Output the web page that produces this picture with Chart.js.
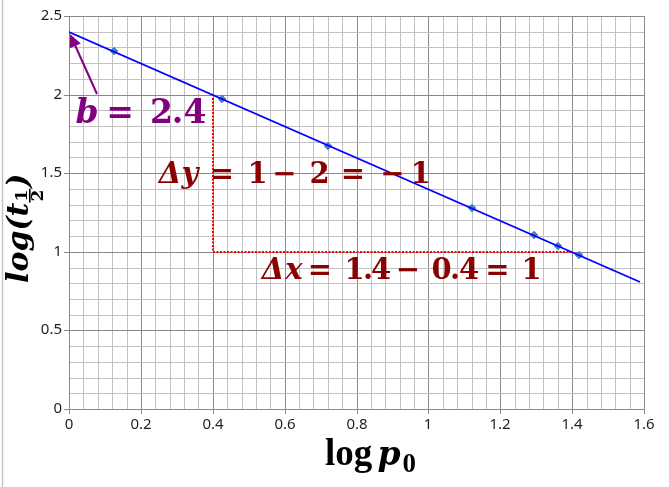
<!DOCTYPE html>
<html>
<head>
<meta charset="utf-8">
<script src="https://cdn.jsdelivr.net/npm/chart.js@4.4.1/dist/chart.umd.min.js"></script>
<style>
  html, body { margin: 0; padding: 0; background: #fff; }
  #wrap { width: 669px; height: 487px; position: relative; }
</style>
</head>
<body>
<div id="wrap"><canvas id="myChart"></canvas></div>
<script>
// measured points: log p0 against log t(1/2)
const logP0 = [0.125, 0.425, 0.72, 1.12, 1.295, 1.36, 1.42];
const logHalfLife = [2.275, 1.975, 1.675, 1.28, 1.105, 1.04, 0.98];

// straight line through the points, its two ends
const fitX = [0, 1.59];
const fitY = [2.4, 0.81];

// red dotted triangle for the slope
const slopeX = [0.4, 0.4, 1.4];
const slopeY = [1.98, 1, 1];

// purple arrow to the intercept: tail, head
const arrowX = [0.077, 0.004];
const arrowY = [2.005, 2.385];

// tick labels
const xTicks = [0, 0.2, 0.4, 0.6, 0.8, 1, 1.2, 1.4, 1.6];
const xTickLabels = ['0', '0.2', '0.4', '0.6', '0.8', '1', '1.2', '1.4', '1.6'];
const yTicks = [0, 0.5, 1, 1.5, 2, 2.5];
const yTickLabels = ['0', '0.5', '1', '1.5', '2', '2.5'];

const majorIndex = (list, v) => list.findIndex((t) => Math.abs(t - v) < 1e-6);

const MAJOR = '#8a8a8a';
const MINOR = '#c2c2c2';
const SERIF = '"DejaVu Serif"';

// draws a row of glyphs centred at given offsets
function drawRun(ctx, cx, cy, size, color, pieces) {
  ctx.save();
  ctx.fillStyle = color;
  ctx.textAlign = 'center';
  ctx.textBaseline = 'alphabetic';
  pieces.forEach(([txt, italic, dx]) => {
    ctx.font = (italic ? 'italic ' : '') + 'bold ' + size + 'px ' + SERIF;
    ctx.fillText(txt, cx + dx, cy);
  });
  ctx.restore();
}

const notes = {
  id: 'notes',
  beforeDraw(chart) {
    const { ctx, width, height } = chart;
    ctx.save();
    ctx.fillStyle = '#fff';
    ctx.fillRect(0, 0, width, height);
    ctx.strokeStyle = '#c4c4c4';
    ctx.lineWidth = 1.5;
    ctx.beginPath();
    ctx.moveTo(2.5, 0);
    ctx.lineTo(2.5, height);
    ctx.stroke();
    ctx.restore();
  },
  afterDatasetsDraw(chart) {
    const { ctx, chartArea } = chart;
    const x = chart.scales.x;
    const y = chart.scales.y;

    // arrow
    const x0 = x.getPixelForValue(arrowX[0]);
    const y0 = y.getPixelForValue(arrowY[0]);
    const x1 = x.getPixelForValue(arrowX[1]);
    const y1 = y.getPixelForValue(arrowY[1]);
    const ang = Math.atan2(y1 - y0, x1 - x0);
    const headLen = 13, headW = 6;
    ctx.save();
    ctx.strokeStyle = '#800080';
    ctx.fillStyle = '#800080';
    ctx.lineWidth = 2;
    ctx.beginPath();
    ctx.moveTo(x0, y0);
    ctx.lineTo(x1 - Math.cos(ang) * headLen * 0.8, y1 - Math.sin(ang) * headLen * 0.8);
    ctx.stroke();
    ctx.beginPath();
    ctx.moveTo(x1, y1);
    ctx.lineTo(x1 - Math.cos(ang) * headLen - Math.sin(ang) * headW,
               y1 - Math.sin(ang) * headLen + Math.cos(ang) * headW);
    ctx.lineTo(x1 - Math.cos(ang) * headLen + Math.sin(ang) * headW,
               y1 - Math.sin(ang) * headLen - Math.cos(ang) * headW);
    ctx.closePath();
    ctx.fill();
    ctx.restore();

    // b = 2.4
    drawRun(ctx, x.getPixelForValue(0.05), y.getPixelForValue(1.819), 33, '#800080', [
      ['b', true, 0], ['=', false, 33], ['2', false, 74.5], ['.', false, 90.5], ['4', false, 108]
    ]);

    // Δy = 1 − 2 = − 1
    drawRun(ctx, x.getPixelForValue(0.281), y.getPixelForValue(1.438), 29, '#8b0000', [
      ['Δ', true, 0], ['y', true, 20], ['=', false, 52], ['1', false, 87.5], ['−', false, 114.5],
      ['2', false, 149.5], ['=', false, 183], ['−', false, 222.5], ['1', false, 250.5]
    ]);

    // Δx = 1.4 − 0.4 = 1
    drawRun(ctx, x.getPixelForValue(0.568), y.getPixelForValue(0.827), 29, '#8b0000', [
      ['Δ', true, 0], ['x', true, 21], ['=', false, 47], ['1', false, 81.5], ['.', false, 95],
      ['4', false, 108], ['−', false, 135], ['0', false, 168.5], ['.', false, 182],
      ['4', false, 196], ['=', false, 224.5], ['1', false, 258.5]
    ]);

    // x axis title: log p0
    const mid = (chartArea.left + chartArea.right) / 2;
    const base = chartArea.bottom + 56;
    ctx.save();
    ctx.fillStyle = '#000';
    ctx.textAlign = 'left';
    ctx.textBaseline = 'alphabetic';
    ctx.font = 'bold 37px "Liberation Serif"';
    ctx.fillText('log', mid - 31.5, base);
    ctx.font = 'italic bold 33px ' + SERIF;
    ctx.fillText('p', mid + 21, base);
    ctx.font = 'bold 27px "Liberation Serif"';
    ctx.fillText('0', mid + 46, base + 7);
    ctx.restore();

    // y axis title: log(t 1/2), turned upwards
    ctx.save();
    ctx.translate(28, chartArea.bottom - 126);
    ctx.rotate(-Math.PI / 2);
    ctx.fillStyle = '#000';
    ctx.textAlign = 'left';
    ctx.textBaseline = 'alphabetic';
    ctx.font = 'italic bold 30px ' + SERIF;
    ctx.fillText('log(t', 0, 0);
    let w = ctx.measureText('log(t').width;
    ctx.font = 'bold 17px ' + SERIF;
    const fw = ctx.measureText('1').width;
    ctx.fillText('1', w + 1, -1);
    ctx.fillText('2', w + 1, 15);
    ctx.fillRect(w, 1, fw + 2, 1.6);
    w += fw + 3;
    ctx.font = 'italic bold 30px ' + SERIF;
    ctx.fillText(')', w, 0);
    ctx.restore();
  }
};

const ctxMain = document.getElementById('myChart').getContext('2d');

const tickFont = { family: 'Noto Sans', size: 15 };

const chart = new Chart(ctxMain, {
  type: 'scatter',
  data: {
    datasets: [
      {
        label: 'fit',
        data: fitX.map((v, i) => ({ x: v, y: fitY[i] })),
        showLine: true,
        borderColor: '#0000ff',
        borderWidth: 1.8,
        pointRadius: 0,
      },
      {
        label: 'points',
        data: logP0.map((v, i) => ({ x: v, y: logHalfLife[i] })),
        showLine: false,
        pointStyle: 'rectRot',
        pointRadius: 3.8,
        backgroundColor: '#4a7fc8',
        borderColor: '#4a7fc8',
      },
      {
        label: 'slope',
        data: slopeX.map((v, i) => ({ x: v, y: slopeY[i] })),
        showLine: true,
        borderColor: '#ff0000',
        borderWidth: 2,
        borderDash: [2, 1.5],
        pointRadius: 0,
      },
    ],
  },
  options: {
    responsive: true,
    maintainAspectRatio: false,
    animation: false,
    layout: { padding: { left: 0, top: 16, right: 25, bottom: 0 } },
    plugins: {
      legend: { display: false },
      tooltip: { enabled: false },
    },
    scales: {
      x: {
        type: 'linear',
        min: 0,
        max: 1.6,
        alignToPixels: true,
        ticks: {
          stepSize: 0.04,
          autoSkip: false,
          minRotation: 0,
          maxRotation: 0,
          padding: 2,
          color: '#1f1f1f',
          font: tickFont,
          callback: (v) => {
            const i = majorIndex(xTicks, v);
            return i < 0 ? '' : xTickLabels[i];
          },
        },
        grid: {
          color: (c) => (majorIndex(xTicks, c.tick.value) < 0 ? MINOR : MAJOR),
          tickColor: (c) => (majorIndex(xTicks, c.tick.value) < 0 ? 'rgba(0,0,0,0)' : MAJOR),
          tickLength: 5,
          lineWidth: 1,
        },
        border: { color: MAJOR, width: 1 },
        afterFit: (s) => { s.height = 78; },
      },
      y: {
        type: 'linear',
        min: 0,
        max: 2.5,
        alignToPixels: true,
        ticks: {
          stepSize: 0.1,
          autoSkip: false,
          padding: 2,
          color: '#1f1f1f',
          font: tickFont,
          callback: (v) => {
            const i = majorIndex(yTicks, v);
            return i < 0 ? '' : yTickLabels[i];
          },
        },
        grid: {
          color: (c) => (majorIndex(yTicks, c.tick.value) < 0 ? MINOR : MAJOR),
          tickColor: (c) => (majorIndex(yTicks, c.tick.value) < 0 ? 'rgba(0,0,0,0)' : MAJOR),
          tickLength: 5,
          lineWidth: 1,
        },
        border: { color: MAJOR, width: 1 },
        afterFit: (s) => { s.width = 69; },
      },
    },
  },
  plugins: [notes],
});
</script>
</body>
</html>
